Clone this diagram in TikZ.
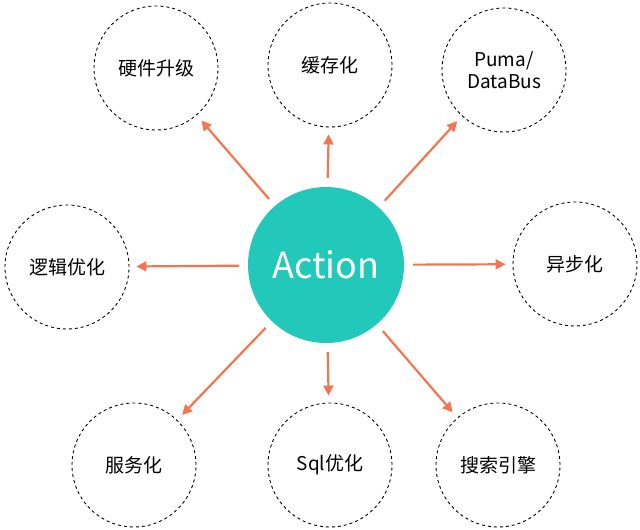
\documentclass[tikz,border=0pt]{standalone}
\usepackage{fontspec}
\setmainfont{Noto Sans CJK SC}
\usetikzlibrary{arrows.meta}
\definecolor{teal1}{HTML}{22C9BB}
\definecolor{arr}{HTML}{F4754F}
\begin{document}
\begin{tikzpicture}[x=1pt,y=-1pt,
  outer/.style={circle,draw,dashed,line width=0.9pt,minimum size=124pt,inner sep=0pt,font=\fontsize{19}{22}\selectfont,align=center},
  conn/.style={arr,line width=2.2pt,-{Triangle[length=10pt,width=10pt]},shorten <=9pt,shorten >=7pt}]
\useasboundingbox (0,0) rectangle (640,530);
\node[circle,fill=teal1,minimum size=156pt,inner sep=0pt,text=white,font=\fontsize{36}{40}\selectfont] (c) at (326,265) {Action};
\node[outer] (a1) at (156,68) {硬件升级};
\node[outer] (a2) at (330,65) {缓存化};
\node[outer] (a3) at (504,70) {Puma/\\DataBus};
\node[outer] (a4) at (67,267) {逻辑优化};
\node[outer] (a5) at (575,264) {异步化};
\node[outer] (a6) at (134,465) {服务化};
\node[outer] (a7) at (330,465) {Sql优化};
\node[outer] (a8) at (498,465) {搜索引擎};
\foreach \n in {a1,a2,a3,a4,a5,a6,a7,a8} \draw[conn] (c) -- (\n);
\end{tikzpicture}
\end{document}
